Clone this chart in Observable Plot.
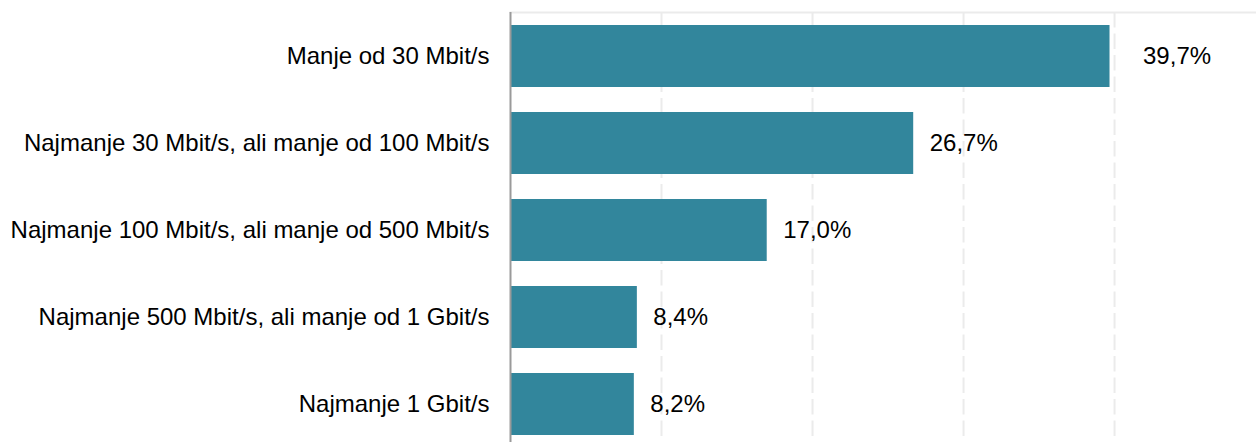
<!DOCTYPE html>
<html>
<head>
<meta charset="utf-8">
<script src="https://cdn.jsdelivr.net/npm/d3@7"></script>
<script src="https://cdn.jsdelivr.net/npm/@observablehq/plot@0.6"></script>
<style>
  html, body { margin: 0; padding: 0; background: #fff; }
  #chart svg { display: block; }
</style>
</head>
<body>
<div id="chart"></div>
<script>
const categories = [
  "Manje od 30 Mbit/s",
  "Najmanje 30 Mbit/s, ali manje od 100 Mbit/s",
  "Najmanje 100 Mbit/s, ali manje od 500 Mbit/s",
  "Najmanje 500 Mbit/s, ali manje od 1 Gbit/s",
  "Najmanje 1 Gbit/s"
];
const values = [39.7, 26.7, 17.0, 8.4, 8.2];
const gridTicks = [10, 20, 30, 40];

const data = categories.map((c, i) => ({category: c, value: values[i]}));
const fmt = v => v.toFixed(1).replace(".", ",") + "%";
const nearGrid = d => gridTicks.some(t => t > d.value && t - d.value < 1.5);

const chart = Plot.plot({
  width: 1256,
  height: 442,
  marginLeft: 510,
  marginRight: 0,
  marginTop: 12,
  marginBottom: 0,
  style: {fontFamily: "'Liberation Sans', Arial, sans-serif", fontSize: "24px", color: "#000", background: "#fff"},
  x: {domain: [0, 49.4], axis: null},
  y: {domain: categories, range: [12.5, 448], paddingInner: 0.29, paddingOuter: 0.145, align: 0.5, label: null},
  marks: [
    Plot.frame({anchor: "top", stroke: "#ebebeb", strokeWidth: 2}),
    Plot.ruleX(gridTicks, {stroke: "#ebebeb", strokeWidth: 2, strokeDasharray: "15.5,6"}),
    Plot.barX(data, {x: "value", y: "category", fill: "#32869c"}),
    Plot.ruleX([0], {stroke: "#9a9a9a", strokeWidth: 2}),
    Plot.axisY({tickSize: 0, tickPadding: 21, fontSize: 24, fill: "#000", label: null}),
    Plot.text(data.filter(d => !nearGrid(d)), {
      x: "value", y: "category", text: d => fmt(d.value),
      textAnchor: "start", dx: 16, fill: "#000", fontSize: 24
    }),
    Plot.text(data.filter(nearGrid), {
      x: "value", y: "category", text: d => fmt(d.value),
      textAnchor: "start", dx: 33, fill: "#000", fontSize: 24
    })
  ]
});

document.getElementById("chart").appendChild(chart);
</script>
</body>
</html>
